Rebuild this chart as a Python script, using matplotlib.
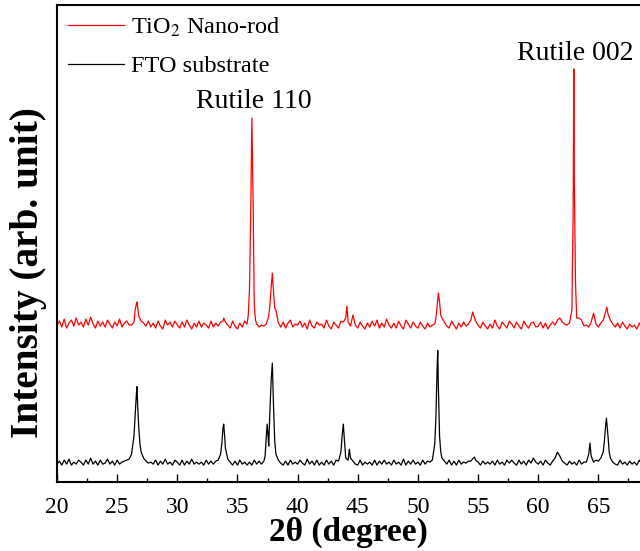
import matplotlib
matplotlib.use('Agg')
import matplotlib.pyplot as plt
from matplotlib.ticker import MultipleLocator
import numpy as np

# XRD patterns, intensity in arb. units, 2-theta grid starts at 20 deg with 0.2 deg step
# (one row = 2 degrees), extra points read around the peak tops
fto_grid = [
    2, 5, 1, 6, 2, 7, 1, 4, 2, 6,            # 20
    4, 1, 6, 2, 8, 2, 5, 1, 6, 2,            # 22
    3, 7, 2, 5, 1, 6, 2, 4, 5, 6,            # 24
    7, 12, 30, 72, 38, 14, 8, 5, 3, 4,       # 26
    2, 6, 1, 5, 2, 7, 2, 4, 1, 6,            # 28
    4, 1, 6, 1, 5, 2, 7, 2, 4, 2,            # 30
    4, 1, 6, 2, 5, 2, 5, 6, 12, 38,          # 32
    18, 7, 4, 1, 5, 1, 6, 2, 4, 1,           # 34
    4, 1, 6, 2, 5, 2, 5, 30, 20, 85,         # 36
    60, 12, 6, 3, 1, 5, 1, 6, 2, 4,          # 38
    2, 6, 3, 1, 7, 2, 5, 1, 6, 1,            # 40
    4, 1, 6, 2, 5, 1, 6, 5, 14, 42,          # 42
    8, 6, 8, 5, 2, 1, 6, 1, 4, 2,            # 44
    4, 1, 6, 1, 5, 2, 6, 2, 4, 1,            # 46
    6, 2, 4, 1, 7, 1, 5, 2, 6, 2,            # 48
    4, 1, 6, 2, 5, 4, 6, 22, 100, 30,        # 50
    8, 5, 2, 6, 1, 5, 1, 6, 2, 4,            # 52
    3, 5, 5, 8, 6, 4, 1, 5, 2, 4,            # 54
    2, 5, 1, 6, 2, 4, 1, 6, 3, 6,            # 56
    3, 1, 6, 2, 5, 1, 6, 3, 8, 4,            # 58
    2, 5, 1, 6, 3, 1, 5, 8, 14, 10,          # 60
    5, 3, 1, 5, 2, 4, 1, 6, 2, 4,            # 62
    4, 12, 10, 4, 6, 5, 8, 14, 40, 30,       # 64
    8, 4, 2, 1, 6, 2, 4, 1, 5, 2,            # 66
    4, 1, 6, 2, 4, 1, 6, 2, 4, 1,            # 68
]
fto_peak_theta = [26.5, 26.65, 26.7, 26.9, 33.7, 33.86, 33.95, 37.3, 37.47, 37.55,
                  37.7, 37.9, 38.1, 43.7, 43.9, 44.3, 51.5, 51.65, 51.7, 51.9,
                  54.7, 64.3, 65.5, 65.67, 65.9]
fto_peak_counts = [52, 79.5, 62, 22, 22, 42, 28, 10, 42, 30,
                   55, 103, 25, 30, 25, 17, 50, 115.5, 80, 14,
                   9, 23, 25, 48, 14]

tio2_grid = [
    5, 9, 3, 11, 2, 7, 10, 4, 12, 5,         # 20
    8, 3, 11, 5, 13, 6, 2, 9, 4, 8,          # 22
    3, 10, 6, 2, 8, 4, 11, 3, 7, 9,          # 24
    5, 5, 8, 26, 14, 9, 7, 4, 9, 3,          # 26
    7, 2, 9, 4, 1, 10, 5, 8, 3, 9,           # 28
    5, 2, 8, 3, 10, 5, 1, 7, 3, 9,           # 30
    3, 7, 5, 2, 9, 3, 7, 4, 8, 9,            # 32
    8, 5, 2, 9, 4, 1, 7, 3, 9, 6,            # 34
    40, 212, 25, 6, 3, 5, 4, 6, 14, 42,      # 36
    38, 20, 7, 3, 8, 2, 7, 10, 3, 6,         # 38
    5, 9, 3, 7, 1, 10, 4, 2, 8, 5,           # 40
    6, 2, 10, 4, 1, 8, 5, 2, 9, 8,           # 42
    12, 8, 4, 15, 5, 2, 8, 4, 1, 7,          # 44
    3, 9, 4, 10, 2, 7, 3, 11, 5, 2,          # 46
    7, 2, 9, 4, 1, 10, 6, 2, 8, 4,           # 48
    2, 8, 4, 1, 7, 3, 5, 6, 25, 28,          # 50
    12, 8, 4, 2, 9, 5, 1, 7, 3, 8,           # 52
    4, 6, 10, 16, 9, 5, 2, 8, 4, 1,          # 54
    6, 2, 10, 4, 1, 8, 5, 2, 9, 6,           # 56
    2, 8, 4, 1, 9, 5, 2, 7, 8, 3,            # 58
    4, 8, 2, 7, 1, 5, 8, 5, 10, 12,          # 60
    8, 6, 5, 7, 20, 150, 12, 12, 10, 4,      # 62
    5, 3, 8, 17, 6, 3, 7, 10, 18, 16,        # 64
    10, 6, 3, 7, 2, 8, 4, 1, 6, 3,           # 66
    5, 1, 7, 3, 5, 1, 4, 6, 2, 4,            # 68
]
tio2_peak_theta = [26.5, 26.65, 33.86, 35.9, 36.1, 36.3, 36.5, 37.7, 37.9, 38.1,
                   38.3, 44.1, 51.5, 51.7, 51.9, 54.55, 62.9, 62.96, 63.1, 65.7]
tio2_peak_counts = [20, 28, 12, 15, 110, 130, 10, 25, 57, 22,
                    14, 24, 12, 37, 15, 18, 112, 261, 47, 23]

series_labels = ['TiO$_2$ Nano-rod', 'FTO substrate']
peak_names = ['Rutile 110', 'Rutile 002']
peak_label_pos = [(36.38, 380), (63.06, 428)]

fto_offset = 16
tio2_offset = 152


def merge(grid, peak_theta, peak_counts):
    theta = np.concatenate([20 + 0.2 * np.arange(len(grid)), peak_theta])
    counts = np.concatenate([grid, peak_counts]).astype(float)
    order = np.argsort(theta, kind='stable')
    return theta[order], counts[order]


plt.rcParams['font.family'] = 'Liberation Serif'
plt.rcParams['mathtext.fontset'] = 'stix'

fig = plt.figure(figsize=(6.4, 5.51), dpi=100)
ax = fig.add_axes([0.089, 0.125, 0.911, 0.866])

t_tio2, c_tio2 = merge(tio2_grid, tio2_peak_theta, tio2_peak_counts)
t_fto, c_fto = merge(fto_grid, fto_peak_theta, fto_peak_counts)

ax.plot(t_tio2, c_tio2 + tio2_offset, color='#ff0000', lw=0.9, label=series_labels[0])
ax.plot(t_fto, c_fto + fto_offset, color='black', lw=0.9, label=series_labels[1])

for name, (px, py) in zip(peak_names, peak_label_pos):
    ax.text(px, py, name, fontsize=20, ha='center', va='center')

ax.set_xlim(20, 68.46)
ax.set_ylim(0, 477)
ax.xaxis.set_major_locator(MultipleLocator(5))
ax.xaxis.set_minor_locator(MultipleLocator(2.5))
ax.tick_params(axis='x', which='major', direction='in', length=6, width=1, labelsize=17, pad=11)
ax.tick_params(axis='x', which='minor', direction='in', length=3, width=1)
ax.set_yticks([])
ax.spines['right'].set_visible(False)
for s in ['left', 'bottom', 'top']:
    ax.spines[s].set_linewidth(1.5)

ax.set_xlabel('2θ (degree)', fontsize=24, fontweight='bold', labelpad=-1)
ax.set_ylabel('Intensity (arb. unit)', fontsize=28.3, fontweight='bold')
ax.yaxis.set_label_coords(-0.017, 0.44)

ax.legend(loc='upper left', bbox_to_anchor=(0.019, 0.977), frameon=False,
          fontsize=17.5, borderpad=0, borderaxespad=0, handlelength=2.3,
          handletextpad=0.3, labelspacing=0.65)

fig.savefig('out.png', dpi=100)
